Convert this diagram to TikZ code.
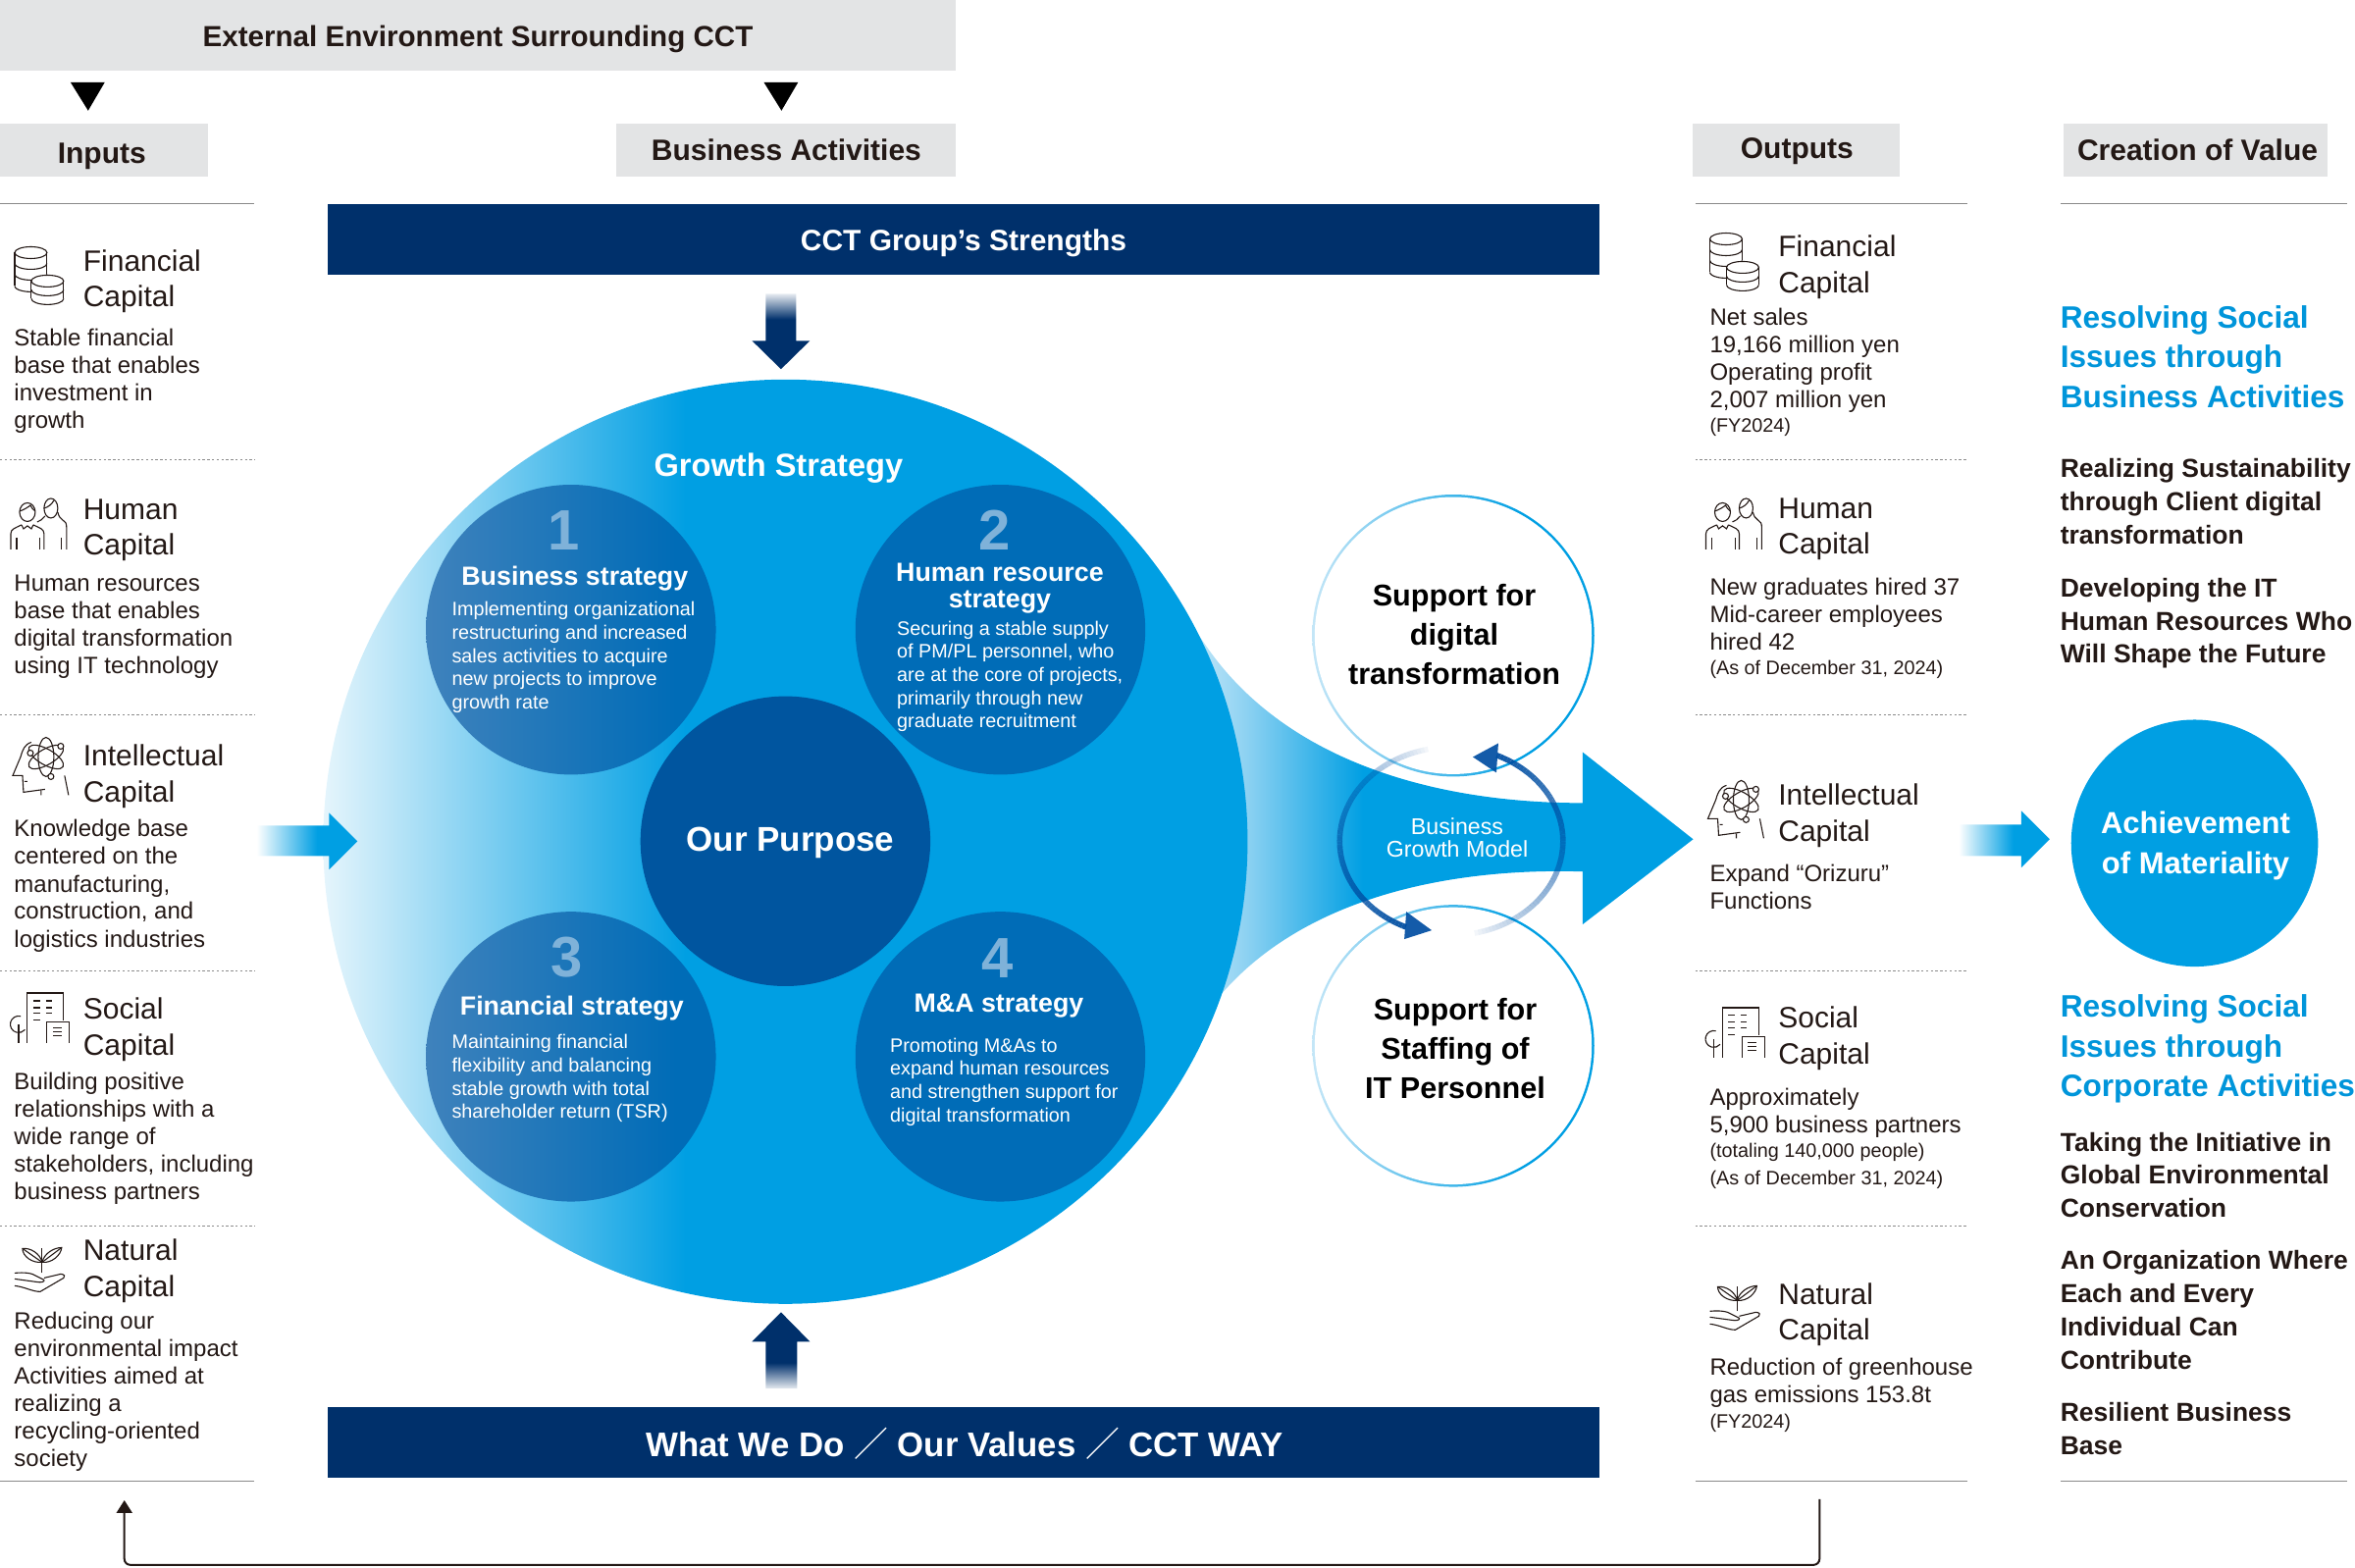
\documentclass[tikz,border=0pt]{standalone}
\usepackage{fontspec}
\setmainfont{Liberation Sans}
\newfontfamily\cjkfont{Noto Sans CJK JP}
\usetikzlibrary{arrows.meta}
\definecolor{ink}{HTML}{231815}
\definecolor{hdr}{HTML}{E3E4E5}
\definecolor{navy}{HTML}{00306B}
\definecolor{cyanb}{HTML}{009FE3}
\definecolor{cyant}{HTML}{0095DA}
\definecolor{midb}{HTML}{006CB7}
\definecolor{deepb}{HTML}{00559F}
\definecolor{leftb}{HTML}{3F82BC}
\definecolor{ringc}{HTML}{004EA2}
\definecolor{rulec}{HTML}{8A8A8A}
\definecolor{numc}{HTML}{7FB2D9}
\definecolor{paleb}{HTML}{E5F5FC}
\definecolor{funa}{HTML}{CDEBFA}
\definecolor{funb}{HTML}{8ED2F2}
\definecolor{ringl}{HTML}{C4E6F7}
\pgfdeclarehorizontalshading{bigshade}{100bp}{color(0bp)=(paleb);color(25bp)=(paleb);color(44.6bp)=(cyanb);color(100bp)=(cyanb)}
\pgfdeclarehorizontalshading{funshade}{100bp}{color(0bp)=(funa);color(25bp)=(funa);color(31.2bp)=(funb);color(42.7bp)=(cyanb);color(100bp)=(cyanb)}
\pgfdeclarehorizontalshading{subshade}{100bp}{color(0bp)=(leftb);color(25bp)=(leftb);color(68bp)=(midb);color(100bp)=(midb)}
\pgfdeclarehorizontalshading{ringshade}{100bp}{color(0bp)=(ringl);color(25bp)=(ringl);color(62bp)=(cyanb);color(100bp)=(cyanb)}
\pgfdeclarehorizontalshading{sideshade}{100bp}{color(0bp)=(white);color(25bp)=(white);color(55bp)=(cyanb);color(100bp)=(cyanb)}
\pgfdeclareverticalshading{downshade}{100bp}{color(0bp)=(navy);color(58bp)=(navy);color(75bp)=(white!90!navy);color(100bp)=(white)}
\pgfdeclareverticalshading{upshade}{100bp}{color(0bp)=(white);color(25bp)=(white!90!navy);color(42bp)=(navy);color(100bp)=(navy)}
\tikzset{
  box/.style={inner sep=0pt,outer sep=0pt,align=left,yshift=-2.4pt,execute at begin node=\strut,execute at end node=\strut},
  lhead/.style={box,anchor=west,text=ink,font=\fontsize{15}{18.4}\selectfont},
  lbody/.style={box,anchor=west,text=ink,font=\fontsize{12}{14}\selectfont},
  lsmall/.style={box,anchor=west,text=ink,font=\fontsize{9.9}{13.8}\selectfont},
  tblue/.style={box,yshift=-0.6pt,anchor=west,text=cyant,font=\bfseries\fontsize{15.8}{20.3}\selectfont},
  tblack/.style={box,anchor=west,text=ink,font=\bfseries\fontsize{13.25}{16.9}\selectfont},
  hdrbox/.style={fill=hdr,draw=none},
  hdrtxt/.style={inner sep=0pt,text=ink,font=\bfseries\fontsize{15}{18}\selectfont},
  navybar/.style={fill=navy,draw=none},
  bartxt/.style={inner sep=0pt,text=white,font=\bfseries\fontsize{15}{18}\selectfont},
  solidrule/.style={draw=rulec,line width=.65pt},
  dotrule/.style={draw=rulec,line width=.5pt,dash pattern=on 1.2pt off 1.2pt},
  circ/.style={circle,inner sep=0pt,outer sep=0pt,draw=none},
  numtxt/.style={inner sep=0pt,text=numc,font=\bfseries\fontsize{29}{30}\selectfont},
  sttl/.style={inner sep=0pt,align=center,text=white,font=\bfseries\fontsize{13.4}{13.8}\selectfont},
  sbody/.style={box,anchor=west,text=white,font=\fontsize{9.9}{11.8}\selectfont},
  suptxt/.style={inner sep=0pt,align=center,text=black,font=\bfseries\fontsize{15.3}{20}\selectfont},
  iconln/.style={draw=ink,line width=.55pt},
  coinicon/.pic={
    \draw[iconln] (16.5,6) ellipse [x radius=16.5,y radius=6];
    \draw[iconln] (0,6)--(0,40) (33,6)--(33,28);
    \draw[iconln] (0,17) arc[start angle=180,end angle=0,x radius=16.5,y radius=6];
    \draw[iconln] (0,28) arc[start angle=180,end angle=0,x radius=16.5,y radius=6];
    \draw[iconln] (0,40) arc[start angle=180,end angle=70,x radius=16.5,y radius=6];
    \fill[white] (17,35) rectangle (50,53);
    \draw[iconln,fill=white] (33.5,35) ellipse [x radius=16.5,y radius=6];
    \draw[iconln] (17,35)--(17,53) (50,35)--(50,53);
    \draw[iconln] (17,44) arc[start angle=180,end angle=0,x radius=16.5,y radius=6];
    \draw[iconln] (17,53) arc[start angle=180,end angle=0,x radius=16.5,y radius=6];
  },
  peopleicon/.pic={
    \draw[iconln] (17,16) ellipse [x radius=8,y radius=9.5];
    \draw[iconln] (9,15) .. controls (13,14) and (19,10) .. (20,9) .. controls (21,11) and (23,14) .. (25,15);
    \draw[iconln] (41,12) ellipse [x radius=7,y radius=10];
    \draw[iconln] (34,12) .. controls (38,11) and (42,8) .. (44,4);
    \draw[iconln] (48,16) .. controls (49,20) and (50,22) .. (53,24) .. controls (56,25) and (57,28) .. (57,32) -- (57,54);
    \draw[iconln] (35,20) .. controls (33,23) and (30,25) .. (27,26);
    \draw[iconln] (0,54)--(0,38) .. controls (0,33) and (5,32) .. (11,29) (23,29) .. controls (29,32) and (34,33) .. (34,38) -- (34,54);
    \draw[iconln] (11,29)--(13,33)--(17,30)--(21,33)--(23,29);
    \draw[iconln] (6,42)--(6,54) (30,42)--(30,54) (52,42)--(52,54);
  },
  atomicon/.pic={
    \draw[iconln] (34,20) ellipse [x radius=8,y radius=20];
    \draw[iconln,rotate around={60:(34,20)}] (34,20) ellipse [x radius=8,y radius=20];
    \draw[iconln,rotate around={-60:(34,20)}] (34,20) ellipse [x radius=8,y radius=20];
    \draw[iconln,fill=white] (49,9) circle (3);
    \draw[iconln,fill=white] (18,16) circle (3);
    \draw[iconln,fill=white] (39,40) circle (3);
    \draw[iconln] (19,5) .. controls (12,7) and (10,13) .. (8,20) -- (0,39) -- (10,39) -- (11,56) -- (33,53);
    \draw[iconln] (12,45)--(15,45) (29,54)--(29,59) (53,39)--(57,59);
  },
  socialicon/.pic={
    \draw[iconln] (18,51)--(18,0)--(55,0)--(55,28);
    \draw[iconln] (24,8)--(31,8) (37,8)--(43,8) (24,15)--(31,15) (37,15)--(43,15) (24,21)--(31,21) (37,21)--(43,21) (24,28)--(31,28);
    \draw[iconln] (38,51)--(38,30)--(61,30)--(61,51);
    \draw[iconln] (44,36)--(53,36) (44,40)--(53,40) (44,44)--(53,44);
    \draw[iconln] (11.2,23.8) arc[start angle=-75,end angle=-320,radius=8.5];
    \draw[iconln] (9,32)--(9,51);
  },
  planticon/.pic={
    \draw[iconln] (28,28)--(28,3);
    \draw[iconln] (28,17) .. controls (26,8) and (16,2) .. (8,3) .. controls (8,11) and (18,18) .. (28,17);
    \draw[iconln] (8,3) -- (28,17);
    \draw[iconln] (28,17) .. controls (30,8) and (40,2) .. (48,2) .. controls (47,10) and (38,18) .. (28,17);
    \draw[iconln] (48,2) -- (28,17);
    \draw[iconln] (0,28) .. controls (10,27) and (18,28) .. (22,31) -- (30,35) .. controls (31,37) and (27,38) .. (22,37) -- (0,34);
    \draw[iconln] (30,33) -- (47,29) .. controls (51,29) and (52,32) .. (50,33) -- (26,47) .. controls (18,47) and (10,42) .. (0,41);
  },
}
\begin{document}
\begin{tikzpicture}[x=0.499pt,y=-0.499pt]
\useasboundingbox (0,0) rectangle (2404.8,1601.2);
% headers
\fill[hdrbox] (0,0) rectangle (976,72);
\node[hdrtxt,font=\bfseries\fontsize{14.8}{18}\selectfont] (hext) at (488,40) {External Environment Surrounding CCT};
\fill[black] (72,84)--(107,84)--(90,113)--cycle;
\fill[black] (780,84)--(815,84)--(798,113)--cycle;
\fill[hdrbox] (0,126) rectangle (212,180);
\node[hdrtxt] (hinp) at (104,160) {Inputs};
\fill[hdrbox] (629,126) rectangle (976,180);
\node[hdrtxt] (hbus) at (803,153) {Business Activities};
\fill[hdrbox] (1728,126) rectangle (1940,180);
\node[hdrtxt] (hout) at (1835,154) {Outputs};
\fill[hdrbox] (2107,126) rectangle (2377,180);
\node[hdrtxt] (hval) at (2244,153) {Creation of Value};
% rules
\draw[solidrule] (0,208)--(260,208) (1731,208)--(2009,208) (2104,208)--(2397,208);
\draw[solidrule] (0,1512.5)--(260,1512.5) (1731,1512.5)--(2009,1512.5) (2104,1512.5)--(2397,1512.5);
\foreach \yy in {469,730,991,1252}{
  \draw[dotrule] (0,\yy)--(260,\yy) (1731,\yy)--(2009,\yy);
}
% bars
\fill[navybar] (335,208) rectangle (1633,281);
\node[bartxt] (bar1) at (984,248) {CCT Group’s Strengths};
\fill[navybar] (335,1437) rectangle (1633,1509);
\node[bartxt,font=\bfseries\fontsize{17.4}{20}\selectfont] (bar2) at (985,1474) {What We Do {\cjkfont\mdseries ／} Our Values {\cjkfont\mdseries ／} CCT WAY};
% vertical arrows
\shade[shading=downshade] (782,300)--(813,300)--(813,348)--(827,348)--(797.5,377)--(768,348)--(782,348)--cycle;
\shade[shading=upshade] (782,1418)--(814,1418)--(814,1370)--(827,1370)--(797.5,1340)--(768,1370)--(782,1370)--cycle;
% funnel
\shade[shading=funshade] (1207,617) .. controls (1280,770) and (1453,820) .. (1616,820) -- (1616,768) -- (1729,857) -- (1616,944) -- (1616,890) .. controls (1483,886) and (1330,915) .. (1243,1020) -- (1207,860) -- cycle;
% main circle
\node[circ,minimum size=471pt,shading=bigshade] (big) at (802,859.5) {};
% side arrows
\shade[shading=sideshade] (262,843)--(336,843)--(336,830)--(365,859)--(336,888)--(336,874)--(262,874)--cycle;
\shade[shading=sideshade] (2000,842)--(2064,842)--(2064,828)--(2093,857)--(2064,886)--(2064,874)--(2000,874)--cycle;
\node[inner sep=0pt,text=white,font=\bfseries\fontsize{16.3}{18}\selectfont] (gs) at (795,478.5) {Growth Strategy};
\node[circ,minimum size=147.7pt,shading=subshade] (s1) at (583,643) {};
\node[circ,minimum size=147.7pt,fill=midb] (s2) at (1021.5,643) {};
\node[circ,minimum size=147.7pt,shading=subshade] (s3) at (583,1079) {};
\node[circ,minimum size=147.7pt,fill=midb] (s4) at (1021.5,1079) {};
\node[circ,minimum size=147.7pt,fill=deepb] (s0) at (802,859) {};
\node[inner sep=0pt,text=white,font=\bfseries\fontsize{17.5}{20}\selectfont] (pur) at (807,861) {Our Purpose};
\node[numtxt] (n1) at (576,542) {1};
\node[numtxt] (n2) at (1016,541) {2};
\node[numtxt] (n3) at (579,978) {3};
\node[numtxt] (n4) at (1019,978) {4};
\node[sttl] (t1) at (587,591) {Business strategy};
\node[sttl] (t2) at (1021,601) {Human resource\\strategy};
\node[sttl] (t3) at (584,1030) {Financial strategy};
\node[sttl] (t4) at (1020,1027) {M\&A strategy};
\node[sbody] (b1) at (461.5,668) {Implementing organizational\\restructuring and increased\\sales activities to acquire\\new projects to improve\\growth rate};
\node[sbody] (b2) at (916,687.5) {Securing a stable supply\\of PM/PL personnel, who\\are at the core of projects,\\primarily through new\\graduate recruitment};
\node[sbody] (b3) at (461.5,1098) {Maintaining financial\\flexibility and balancing\\stable growth with total\\shareholder return (TSR)};
\node[sbody] (b4) at (909,1101.5) {Promoting M\&As to\\expand human resources\\and strengthen support for\\digital transformation};
% support circles
\node[circ,minimum size=143.7pt,shading=ringshade] (ua) at (1484,649) {};
\node[circ,minimum size=141.2pt,fill=white] (ub) at (ua) {};
\node[suptxt] (ut) at (1485,648) {Support for\\digital\\transformation};
\node[circ,minimum size=143.7pt,shading=ringshade] (va) at (1484,1068) {};
\node[circ,minimum size=141.2pt,fill=white] (vb) at (va) {};
\node[suptxt] (vt) at (1486,1071) {Support for\\Staffing of\\IT Personnel};
% ring
\foreach \a in {100,102,...,244}{
  \pgfmathsetmacro{\oo}{0.95*((\a-100)/145)^0.7}
  \draw[ringc,line width=2.8pt,opacity=\oo] ({1482+114*cos(\a)},{859-96*sin(\a)}) -- ({1482+114*cos(\a+2)},{859-96*sin(\a+2)});
}
\foreach \a in {-80,-78,...,64}{
  \pgfmathsetmacro{\oo}{0.95*((\a+80)/146)^0.7}
  \draw[ringc,line width=2.8pt,opacity=\oo] ({1482+114*cos(\a)},{859-96*sin(\a)}) -- ({1482+114*cos(\a+2)},{859-96*sin(\a+2)});
}
\fill[ringc,opacity=.92] (1436,931)--(1462,950)--(1434,959)--cycle;
\fill[ringc,opacity=.92] (1530,759)--(1504,773)--(1528,789)--cycle;
\node[inner sep=0pt,align=center,text=white,font=\fontsize{11.6}{11.5}\selectfont] (bgm) at (1488,855) {Business\\Growth Model};
% achievement
\node[circ,minimum size=125.8pt,fill=cyanb] (ach) at (2241,861) {};
\node[inner sep=0pt,text=white,align=center,font=\bfseries\fontsize{15.5}{20.5}\selectfont] (acht) at (2242,864) {Achievement\\of Materiality};
% left column
\pic at (15,252) {coinicon};
\node[lhead] (lh1) at (85,285) {Financial\\Capital};
\node[lbody] (lb1) at (14.5,386) {Stable financial\\base that enables\\investment in\\growth};
\pic at (11,507) {peopleicon};
\node[lhead] (lh2) at (85,539) {Human\\Capital};
\node[lbody] (lb2) at (14.5,637) {Human resources\\base that enables\\digital transformation\\using IT technology};
\pic at (13,753) {atomicon};
\node[lhead] (lh3) at (85,790.5) {Intellectual\\Capital};
\node[lbody] (lb3) at (14.5,901.5) {Knowledge base\\centered on the\\manufacturing,\\construction, and\\logistics industries};
\pic at (10,1014) {socialicon};
\node[lhead] (lh4) at (85,1049) {Social\\Capital};
\node[lbody] (lb4) at (14.5,1160) {Building positive\\relationships with a\\wide range of\\stakeholders, including\\business partners};
\pic at (15,1272) {planticon};
\node[lhead] (lh5) at (85,1295.5) {Natural\\Capital};
\node[lbody] (lb5) at (14.5,1418) {Reducing our\\environmental impact\\Activities aimed at\\realizing a\\recycling-oriented\\society};
% right column
\pic at (1746,238) {coinicon};
\node[lhead] (rh1) at (1816,270) {Financial\\Capital};
\node[lbody] (rb1) at (1746,365) {Net sales\\19,166 million yen\\Operating profit\\2,007 million yen};
\node[lsmall] (rs1) at (1746,431) {(FY2024)};
\pic at (1742,507) {peopleicon};
\node[lhead] (rh2) at (1816,538) {Human\\Capital};
\node[lbody] (rb2) at (1746,626) {New graduates hired 37\\Mid-career employees\\hired 42};
\node[lsmall] (rs2) at (1746,679) {(As of December 31, 2024)};
\pic at (1744,797) {atomicon};
\node[lhead] (rh3) at (1816,830.5) {Intellectual\\Capital};
\node[lbody] (rb3) at (1746,905) {Expand “Orizuru”\\Functions};
\pic at (1741,1029) {socialicon};
\node[lhead] (rh4) at (1816,1058) {Social\\Capital};
\node[lbody] (rb4) at (1746,1133) {Approximately\\5,900 business partners};
\node[lsmall] (rs4) at (1746,1188) {(totaling 140,000 people)\\(As of December 31, 2024)};
\pic at (1746,1311) {planticon};
\node[lhead] (rh5) at (1816,1340) {Natural\\Capital};
\node[lbody] (rb5) at (1746,1409) {Reduction of greenhouse\\gas emissions 153.8t};
\node[lsmall] (rs5) at (1746,1448) {(FY2024)};
% far right
\node[tblue] (v1) at (2104,364) {Resolving Social\\Issues through\\Business Activities};
\node[tblack] (v2) at (2104,512) {Realizing Sustainability\\through Client digital\\transformation};
\node[tblack] (v3) at (2104,634) {Developing the IT\\Human Resources Who\\Will Shape the Future};
\node[tblue] (v4) at (2104,1068) {Resolving Social\\Issues through\\Corporate Activities};
\node[tblack] (v5) at (2104,1200) {Taking the Initiative in\\Global Environmental\\Conservation};
\node[tblack] (v6) at (2104,1338) {An Organization Where\\Each and Every\\Individual Can\\Contribute};
\node[tblack] (v7) at (2104,1459) {Resilient Business\\Base};
% feedback connector
\coordinate (fbstart) at (1858,1531);
\coordinate (fbend) at (127,1532);
\draw[ink,line width=1pt,rounded corners=3pt,-{Triangle[width=8pt,length=6.5pt]}] (fbstart) -- (1858,1598) -- (127,1598) -- (fbend);
\end{tikzpicture}
\end{document}
